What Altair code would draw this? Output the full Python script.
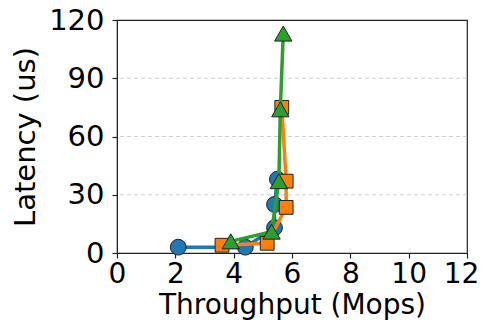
import altair as alt
import pandas as pd

series_names = ["A", "B", "C"]
blue_x = [2.1, 4.4, 5.4, 5.4, 5.5]
blue_y = [3, 3, 13, 25, 38]
orange_x = [3.6, 5.15, 5.8, 5.8, 5.65]
orange_y = [4, 5, 23.5, 37, 75]
green_x = [3.9, 5.3, 5.55, 5.6, 5.7]
green_y = [6, 11, 37, 74, 113]

x_ticks = [0, 2, 4, 6, 8, 10, 12]
y_ticks = [0, 30, 60, 90, 120]
grid_values = [30, 60, 90]

colors = ["#1f77b4", "#ff7f0e", "#2ca02c"]
shapes = ["circle", "square", "triangle-up"]
sizes = [250, 190, 300]

xs = [blue_x, orange_x, green_x]
ys = [blue_y, orange_y, green_y]

xscale = alt.Scale(domain=[0, 12], nice=False)
yscale = alt.Scale(domain=[0, 120], nice=False)

enc_x = alt.X("x:Q", scale=xscale,
              axis=alt.Axis(values=x_ticks, title="Throughput (Mops)", grid=False,
                            labelOffset={"condition": {"test": "datum.value === 12", "value": -6},
                                         "value": 0}))
enc_y = alt.Y("y:Q", scale=yscale,
              axis=alt.Axis(values=y_ticks, title="Latency (us)", grid=False))

grid = alt.Chart(pd.DataFrame({"g": grid_values})).mark_rule(
    color="#d0d0d0", strokeDash=[4, 3], strokeWidth=1
).encode(y=alt.Y("g:Q", scale=yscale))

layers = [grid]
for i, name in enumerate(series_names):
    df = pd.DataFrame({"x": xs[i], "y": ys[i], "o": list(range(len(xs[i])))})
    base = alt.Chart(df)
    line = base.mark_line(color=colors[i], strokeWidth=3.5).encode(x=enc_x, y=enc_y, order="o:Q")
    pts = base.mark_point(shape=shapes[i], filled=True, fill=colors[i], stroke="#222222",
                          strokeWidth=1, size=sizes[i], opacity=1).encode(x=enc_x, y=enc_y)
    layers += [line, pts]

chart = alt.layer(*layers).properties(
    width=350, height=233,
    autosize=alt.AutoSizeParams(type="none"),
    padding={"left": 109, "top": 12, "right": 12, "bottom": 69},
).configure_view(stroke="#222222", strokeWidth=1.2).configure_axis(
    labelFont="DejaVu Sans", titleFont="DejaVu Sans",
    labelFontSize=29, titleFontSize=29, labelColor="black", titleColor="black",
    titleFontWeight="normal", domainColor="#222222", tickColor="#222222",
    tickSize=5, tickWidth=1.2, labelPadding=5, labelFlush=False, labelOverlap=False,
).configure_axisY(titlePadding=8, labelPadding=8).configure_axisX(
    titlePadding=3, labelPadding=2, labelFontSize=28, titleFontSize=28)

chart.save("out.html", embed_options={"renderer": "svg", "actions": False})
